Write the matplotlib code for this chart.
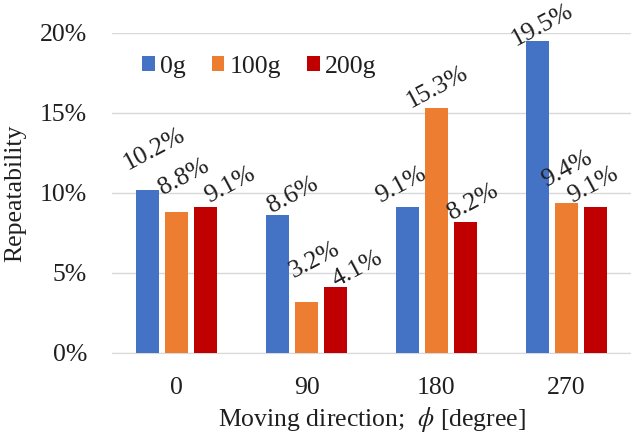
import numpy as np
import matplotlib
matplotlib.use("Agg")
import matplotlib.pyplot as plt
from matplotlib.ticker import FuncFormatter

plt.rcParams['font.family'] = ['Liberation Serif', 'DejaVu Serif']
plt.rcParams['mathtext.fontset'] = 'stix'

# repeatability (%) per moving direction, one series per load
directions = ['0', '90', '180', '270']
loads = ['0g', '100g', '200g']
rep_0g = [10.2, 8.6, 9.1, 19.5]
rep_100g = [8.8, 3.2, 15.3, 9.4]
rep_200g = [9.1, 4.1, 8.2, 9.1]
colors = ['#4472C4', '#ED7D31', '#C00000']

# hand-placed nudges (points) for the slanted value labels, from each bar's top-left corner
nudge_0g = [(-6, 14), (4, 2), (-11.5, 3), (-7, -4)]
nudge_100g = [(-1.5, 12), (-0.7, 17), (-10, 0), (-6, 11.5)]
nudge_200g = [(11, 3), (8.6, 0), (-1.5, 1.5), (-8, 3)]

txt = '#1f1f1f'
fs = 18.5

fig = plt.figure(figsize=(6.31, 4.33), dpi=100)
ax = fig.add_axes([0.1775, 0.185, 0.8225, 0.739])

x = np.arange(len(directions))
width = 0.177
step = 0.223
series = [rep_0g, rep_100g, rep_200g]
nudges = [nudge_0g, nudge_100g, nudge_200g]
for i, (vals, name, c, nd) in enumerate(zip(series, loads, colors, nudges)):
    pos = x + (i - 1) * step
    ax.bar(pos, np.array(vals) / 100, width, color=c, label=name, zorder=3)
    for xp, v, (dx, dy) in zip(pos, vals, nd):
        ax.annotate(f'{v:.1f}%', (xp - width / 2, v / 100), xytext=(dx, dy),
                    textcoords='offset points', ha='left', va='baseline',
                    rotation=28, rotation_mode='anchor', fontsize=fs, color=txt,
                    annotation_clip=False, zorder=4)

ax.set_xlim(-0.5, 3.5)
ax.set_ylim(0, 0.20)
ax.set_yticks([0, 0.05, 0.10, 0.15, 0.20])
ax.yaxis.set_major_formatter(FuncFormatter(lambda v, p: f'{v * 100:.0f}%'))
ax.set_xticks(x)
ax.set_xticklabels(directions)
ax.tick_params(length=0, labelsize=fs, colors=txt)
ax.tick_params(axis='x', pad=17)
ax.tick_params(axis='y', pad=18)
ax.grid(axis='y', color='#D9D9D9', linewidth=1.0, zorder=0)
for s in ['top', 'right', 'left']:
    ax.spines[s].set_visible(False)
ax.spines['bottom'].set_color('#D9D9D9')

ax.set_ylabel('Repeatability', fontsize=fs, color=txt, labelpad=10)
ax.set_xlabel(r'Moving direction;  $\phi$ [degree]', fontsize=fs,
              color=txt, labelpad=5)

ax.legend(loc='center left', bbox_to_anchor=(0.058, 0.894), ncol=3, frameon=False,
          fontsize=fs, handlelength=0.5, handleheight=0.5, handletextpad=0.2,
          columnspacing=1.0, borderpad=0, borderaxespad=0, labelcolor=txt)

fig.savefig('out.png', dpi=100)
